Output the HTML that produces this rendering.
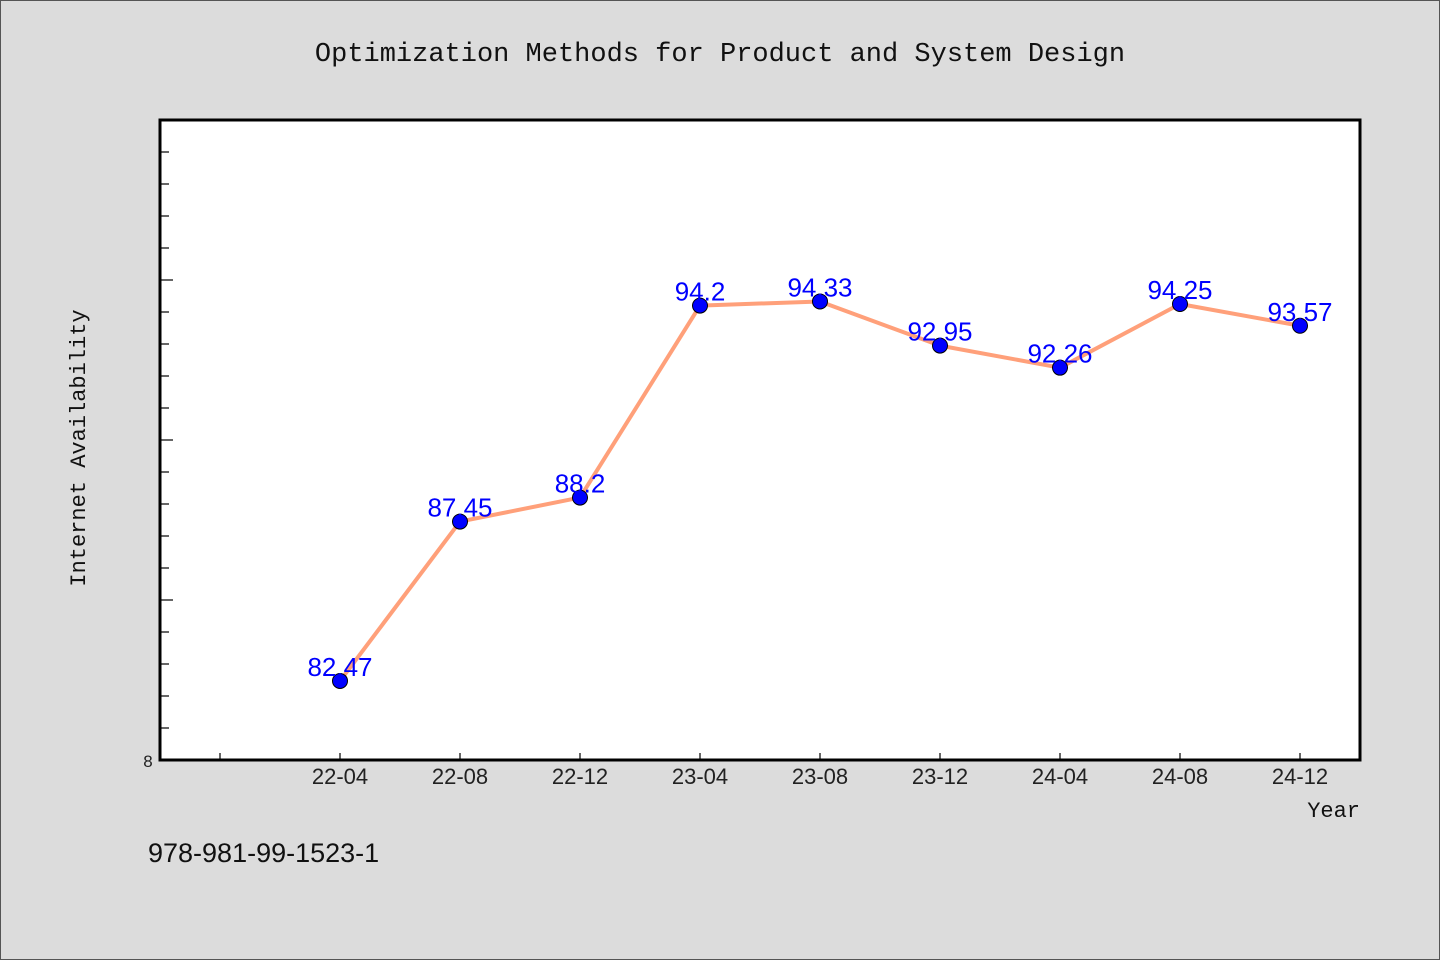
<!DOCTYPE html>
<html><head><meta charset="utf-8"><style>
html,body{margin:0;padding:0;background:#dcdcdc;}
svg{display:block}
</style></head><body>
<svg width="1440" height="960" viewBox="0 0 1440 960" xmlns="http://www.w3.org/2000/svg">
<rect x="0.5" y="0.5" width="1439" height="959" fill="#dcdcdc" stroke="#555" stroke-width="1"/>
<text x="720" y="61" text-anchor="middle" font-family="Liberation Mono, monospace" font-size="27" fill="#111">Optimization Methods for Product and System Design</text>
<rect x="160" y="120" width="1200" height="640" fill="#fff" stroke="#000" stroke-width="3"/>
<g id="yticks"></g>
<g id="xticks"></g>
<text x="148" y="767" text-anchor="middle" font-family="Liberation Sans, sans-serif" font-size="17" fill="#222">8</text>
<text transform="translate(85,448) rotate(-90)" text-anchor="middle" font-family="Liberation Mono, monospace" font-size="22" fill="#111">Internet Availability</text>
<text x="1360" y="817" text-anchor="end" font-family="Liberation Mono, monospace" font-size="22" fill="#111">Year</text>
<text x="148" y="862" font-family="Liberation Sans, sans-serif" font-size="27" fill="#111">978-981-99-1523-1</text>
<g id="series"></g>
</svg>
<script>
const categories=["22-04","22-08","22-12","23-04","23-08","23-12","24-04","24-08","24-12"];
const values=[82.47,87.45,88.2,94.2,94.33,92.95,92.26,94.25,93.57];
const labels=["82.47","87.45","88.2","94.2","94.33","92.95","92.26","94.25","93.57"];
const yMin=80,yMax=100;
const NS="http://www.w3.org/2000/svg";
function xs(i){return 160+(i+1.5)*120;}
function ys(v){return 760-(v-yMin)/(yMax-yMin)*640;}
function mk(t,a,p){const e=document.createElementNS(NS,t);for(const k in a)e.setAttribute(k,a[k]);p.appendChild(e);return e;}
const yg=document.getElementById('yticks');
for(let v=yMin+1;v<yMax;v++){
  const y=ys(v);const len=(v%5===0)?12:8;
  const t=mk('line',{x1:161,x2:161+len,y1:y,y2:y,stroke:'#000','stroke-width':1.2},yg);
  
  
}
const xg=document.getElementById('xticks');
for(let i=-1;i<categories.length;i++){
  const x=xs(i);
  const t=mk('line',{x1:x,x2:x,y1:759,y2:753,stroke:'#000','stroke-width':1.2},xg);
  
  
  if(i>=0){
    const l=mk('text',{x:x,y:784,'text-anchor':'middle','font-family':'Liberation Sans, sans-serif','font-size':22,fill:'#222'},xg);
    l.textContent=categories[i];
    
    
  }
}
const sg=document.getElementById('series');
const pts=values.map((v,i)=>xs(i)+','+ys(v)).join(' ');
const pl=mk('polyline',{points:pts,fill:'none',stroke:'#FFA07A','stroke-width':4,'stroke-linejoin':'round'},sg);


values.forEach((v,i)=>{
  const c=mk('circle',{cx:xs(i),cy:ys(v),r:7.5,fill:'#0000ff',stroke:'#000','stroke-width':1},sg);
  
  
});
values.forEach((v,i)=>{
  const t=mk('text',{x:xs(i),y:ys(v)-5,'text-anchor':'middle','font-family':'Liberation Sans, sans-serif','font-size':26,fill:'#0000ff'},sg);
  t.textContent=labels[i];
  
  
});
</script>
</body></html>
